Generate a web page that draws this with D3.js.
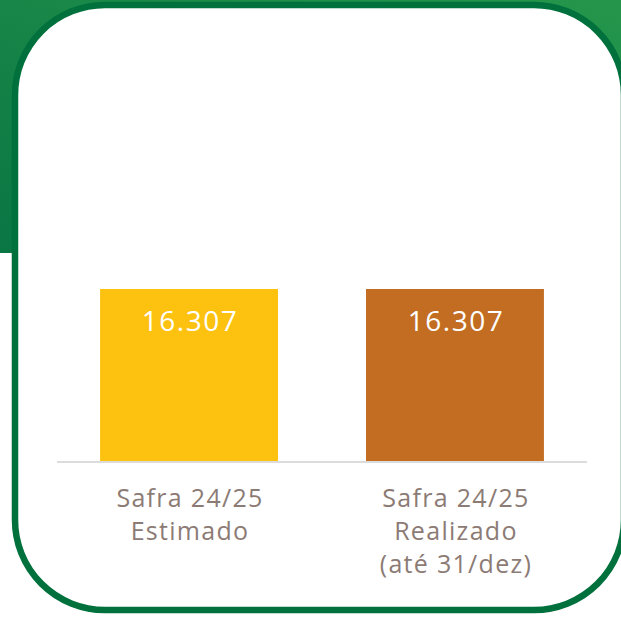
<!DOCTYPE html>
<html>
<head>
<meta charset="utf-8">
<script src="https://cdn.jsdelivr.net/npm/d3@7"></script>
<style>
  html, body { margin: 0; padding: 0; background: #fff; }
  svg { display: block; }
</style>
</head>
<body>
<div id="chart-area"></div>
<script>
// data
var categories = ["Safra 24/25 Estimado", "Safra 24/25 Realizado (até 31/dez)"];
var labelLines = [["Safra 24/25", "Estimado"], ["Safra 24/25", "Realizado", "(até 31/dez)"]];
var values = [16307, 16307];
var valueLabels = ["16.307", "16.307"];
var barColors = ["#fdc110", "#c26d22"];

var W = 621, H = 621;
var margin = { left: 57, right: 34, top: 116, bottom: 159 };
var width = W - margin.left - margin.right;
var height = H - margin.top - margin.bottom;

var svg = d3.select("#chart-area")
	.append("svg")
	.attr("width", W)
	.attr("height", H);

// green header behind the card
var defs = svg.append("defs");
var grad = defs.append("linearGradient")
	.attr("id", "hdr")
	.attr("x1", "100%").attr("y1", "0%")
	.attr("x2", "0%").attr("y2", "100%");
grad.append("stop").attr("offset", "0%").attr("stop-color", "#25964b");
grad.append("stop").attr("offset", "100%").attr("stop-color", "#0a7644");

svg.append("rect")
	.attr("x", 0).attr("y", 0)
	.attr("width", W).attr("height", 253)
	.attr("fill", "url(#hdr)");

// card
svg.append("rect")
	.attr("x", 15).attr("y", 5)
	.attr("width", 609).attr("height", 605)
	.attr("rx", 90).attr("ry", 90)
	.attr("fill", "#fff")
	.attr("stroke", "#00703c")
	.attr("stroke-width", 6.5);

var g = svg.append("g")
	.attr("transform", "translate(" + margin.left + ", " + margin.top + ")");

var x = d3.scaleBand()
	.domain(categories)
	.range([0, width])
	.paddingInner(0.331)
	.paddingOuter(0.162);

var y = d3.scaleLinear()
	.domain([0, 32614])
	.range([height, 0]);

// bars
g.selectAll("rect.bar")
	.data(values)
	.enter()
	.append("rect")
	.attr("class", "bar")
	.attr("x", (d, i) => x(categories[i]))
	.attr("y", d => y(d))
	.attr("width", x.bandwidth())
	.attr("height", d => y(0) - y(d))
	.attr("fill", (d, i) => barColors[i]);

// baseline
g.append("line")
	.attr("x1", 0).attr("x2", width)
	.attr("y1", y(0)).attr("y2", y(0))
	.attr("stroke", "#dcdcdc")
	.attr("stroke-width", 2);

// value labels
g.selectAll("text.val")
	.data(values)
	.enter()
	.append("text")
	.attr("class", "val")
	.attr("x", (d, i) => x(categories[i]) + x.bandwidth() / 2 + 1)
	.attr("y", d => y(d) + 42)
	.attr("text-anchor", "middle")
	.attr("font-family", "'Open Sans', 'Noto Sans', sans-serif")
	.attr("font-size", "28px")
	.attr("font-weight", 500)
	.attr("letter-spacing", "1.5px")
	.attr("fill", "#fff")
	.text((d, i) => valueLabels[i]);

// category labels
var xl = g.selectAll("text.cat")
	.data(categories)
	.enter()
	.append("text")
	.attr("class", "cat")
	.attr("text-anchor", "middle")
	.attr("font-family", "'Open Sans', 'Noto Sans', sans-serif")
	.attr("font-size", "25px")
	.attr("font-weight", 500)
	.attr("letter-spacing", "1.3px")
	.attr("fill", "#8c7b75");

xl.each(function (d, i) {
	var t = d3.select(this);
	labelLines[i].forEach((line, k) => {
		t.append("tspan")
			.attr("x", x(d) + x.bandwidth() / 2 + 1)
			.attr("y", y(0) + 45 + k * 33)
			.text(line);
	});
});
</script>
</body>
</html>
